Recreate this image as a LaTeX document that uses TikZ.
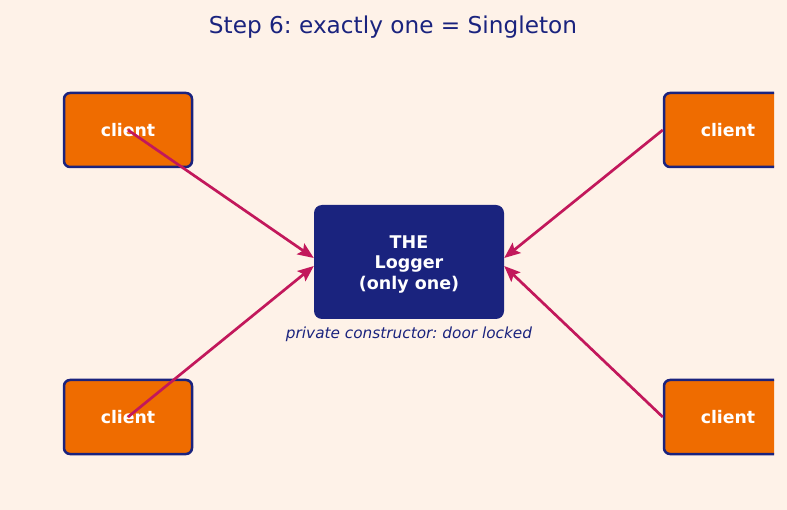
\documentclass[tikz,border=0pt]{standalone}
\usepackage{fontspec}
\setmainfont{DejaVu Sans}
\usetikzlibrary{arrows.meta,calc}
\definecolor{bg}{HTML}{FEF2E8}
\definecolor{navy}{HTML}{1A237E}
\definecolor{orng}{HTML}{EF6C00}
\definecolor{crim}{HTML}{C2185B}
\begin{document}
\frenchspacing
\begin{tikzpicture}[x=1pt,y=-1pt,
  client/.style={draw=navy,fill=orng,line width=2.5pt,rounded corners=6pt,minimum width=128pt,minimum height=74pt,inner sep=0pt,text=white,font=\bfseries\fontsize{17.3}{20}\selectfont},
  logger/.style={fill=navy,rounded corners=8pt,minimum width=190pt,minimum height=114pt,inner sep=0pt,text=white,align=center,font=\bfseries\fontsize{17.5}{20.8}\selectfont},
  link/.style={draw=crim,line width=2.7pt,-{Stealth[length=16pt,width=13pt,inset=3pt]}}]
\fill[bg] (0,0) rectangle (787,510);
\useasboundingbox (0,0) rectangle (787,510);
\node[text=navy,font=\fontsize{23.2}{27}\selectfont] (title) at (393,27) {Step 6: exactly one = Singleton};
\node[logger] (logger) at (409,262) {};
\node[text=white,align=center,font=\bfseries\fontsize{17.5}{20.8}\selectfont] (ltext) at (409,264.5) {THE\\Logger\\(only one)};
\node[text=navy,font=\itshape\fontsize{15.3}{18}\selectfont] (cap) at (409,334) {private constructor: door locked};
\node[client] (c1) at (128,130) {client};
\node[client] (c3) at (128,417) {client};
\begin{scope}
\clip (0,0) rectangle (774,510);
\node[client] (c2) at (728,130) {client};
\node[client] (c4) at (728,417) {client};
\end{scope}
\draw[link] (c1.center) -- ($(logger.west)+(0,-4)$);
\draw[link] (c3.center) -- ($(logger.west)+(0,4)$);
\draw[link] (c2.west) -- ($(logger.east)+(0,-4)$);
\draw[link] (c4.west) -- ($(logger.east)+(0,4)$);
\end{tikzpicture}
\end{document}
